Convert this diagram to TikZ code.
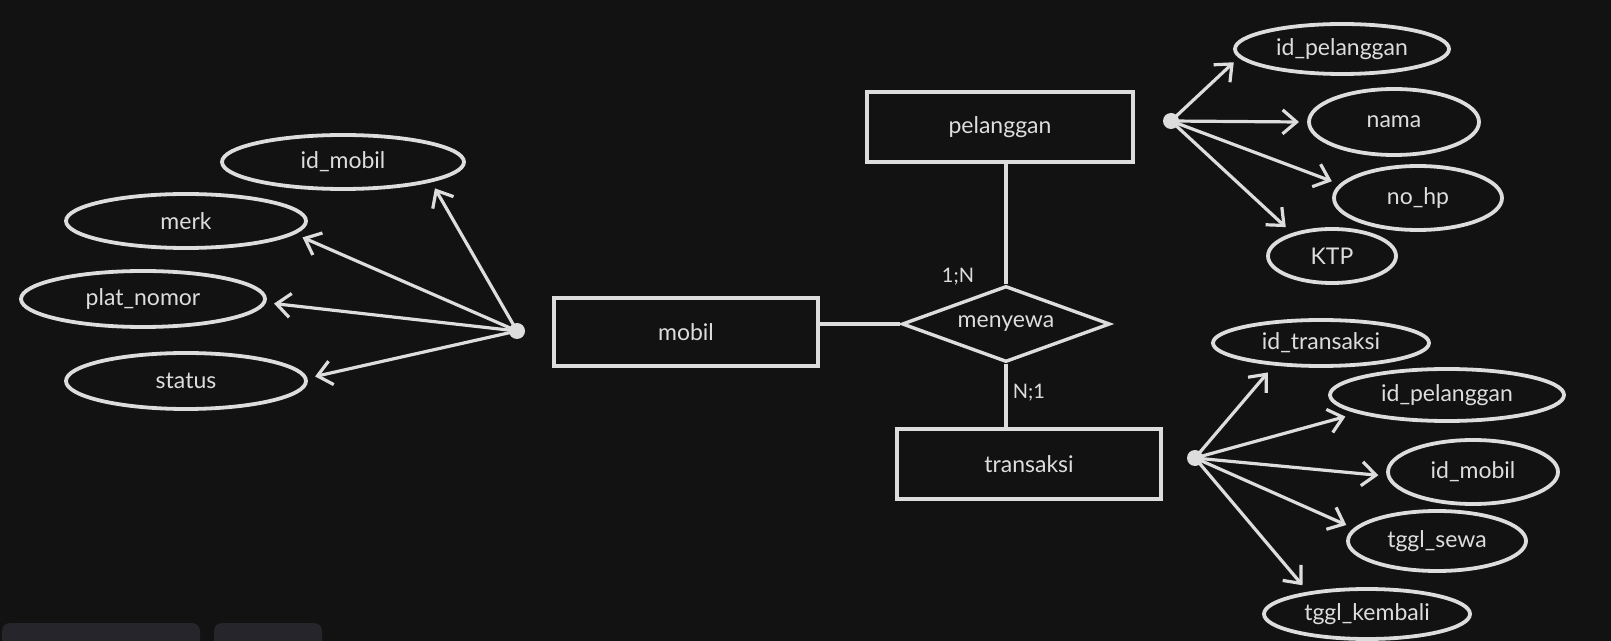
\documentclass[tikz,border=0pt]{standalone}
\usepackage{fontspec}
\setmainfont{Lato}
\usepackage{xcolor}
\usepackage{tikz}
\usetikzlibrary{shapes.geometric, arrows.meta, calc}
\definecolor{bgdark}{RGB}{18, 18, 18}
\definecolor{chalk}{RGB}{221, 221, 221}
\definecolor{uigray}{RGB}{37, 37, 43}

\tikzset{
    attr/.style={ellipse, draw=chalk, line width=1.9pt, inner sep=0pt, outer sep=5pt, text=chalk},
    entity/.style={rectangle, draw=chalk, line width=1.7pt, inner sep=0pt, text=chalk},
    relation/.style={diamond, shape aspect=2.7, draw=chalk, line width=1.7pt, inner sep=0pt, text=chalk},
    dot/.style={circle, fill=chalk, inner sep=0pt, minimum size=8pt},
    link/.style={chalk, line width=1.6pt},
    arr/.style={chalk, line width=1.6pt, -{Straight Barb[length=7pt, width=12pt]}},
    card/.style={text=chalk, font=\fontsize{10}{12}\selectfont}
}

\begin{document}
\begin{tikzpicture}[x=5pt, y=-5pt, font=\fontsize{11.5}{13}\selectfont]

    % 1. BACKGROUND (page size fixed here)
    \useasboundingbox (0,0) rectangle (161.1,64.1);
    \fill[bgdark] (0,0) rectangle (161.1,64.1);
    \fill[uigray, rounded corners=4pt] (0.2,62.3) rectangle (20.0,66);
    \fill[uigray, rounded corners=4pt] (21.4,62.3) rectangle (32.2,66);

    % 2. ENTITIES AND RELATION
    \node[entity, minimum width=132pt, minimum height=34pt] (mobil) at (68.6,33.2) {mobil};
    \node[entity, minimum width=133pt, minimum height=35pt] (pelanggan) at (100.0,12.7) {pelanggan};
    \node[entity, minimum width=132pt, minimum height=35pt] (transaksi) at (102.9,46.4) {transaksi};
    \node[relation, minimum width=104pt, minimum height=38pt] (menyewa) at (100.6,32.4) {menyewa};

    \draw[link] (menyewa.west) -- (menyewa.west -| mobil.east);
    \draw[link] (menyewa.north) -- (menyewa.north |- pelanggan.south);
    \draw[link] (menyewa.south) -- (menyewa.south |- transaksi.north);

    \node[card] (cardpel) at (95.8,27.7) {1;N};
    \node[card] (cardtrx) at (102.9,39.3) {N;1};

    % 3. ATTRIBUTE HUBS
    \node[dot] (hubmobil) at (51.7,33.1) {};
    \node[dot] (hubpel) at (117.1,12.1) {};
    \node[dot] (hubtrx) at (119.5,45.8) {};

    % 4. ATTRIBUTES (name/x/y/width/height/anchor angle/text)
    \foreach \nm/\x/\y/\w/\h/\ang/\txt in {
        amobil/34.3/16.2/121/27/-16/id\_mobil,
        amerk/18.6/22.1/120/27/-8/merk,
        aplat/14.3/29.9/122/28/-2/plat\_nomor,
        astatus/18.6/38.1/120/28/2/status} {
        \node[attr, minimum width=\w pt, minimum height=\h pt] (\nm) at (\x,\y) {\txt};
        \draw[arr] (hubmobil.center) -- (\nm.\ang);
    }

    \foreach \nm/\x/\y/\w/\h/\ang/\txt in {
        aidpel/134.2/4.9/107/25/187/id\_pelanggan,
        anama/139.4/12.2/85/33/180/nama,
        anohp/141.8/19.8/84/32/169/no\_hp,
        aktp/133.2/25.6/64/27/148/KTP} {
        \node[attr, minimum width=\w pt, minimum height=\h pt] (\nm) at (\x,\y) {\txt};
        \draw[arr] (hubpel.center) -- (\nm.\ang);
    }

    \foreach \nm/\x/\y/\w/\h/\ang/\txt in {
        aidtrx/132.1/34.3/108/23/209/id\_transaksi,
        atrxpel/144.7/39.5/117/26/192/id\_pelanggan,
        atrxmob/147.3/47.2/85/32/182/id\_mobil,
        asewa/143.7/54.1/89/30/170/tggl\_sewa,
        akembali/136.7/61.4/103/25/156/tggl\_kembali} {
        \node[attr, minimum width=\w pt, minimum height=\h pt] (\nm) at (\x,\y) {\txt};
        \draw[arr] (hubtrx.center) -- (\nm.\ang);
    }

\end{tikzpicture}
\end{document}
